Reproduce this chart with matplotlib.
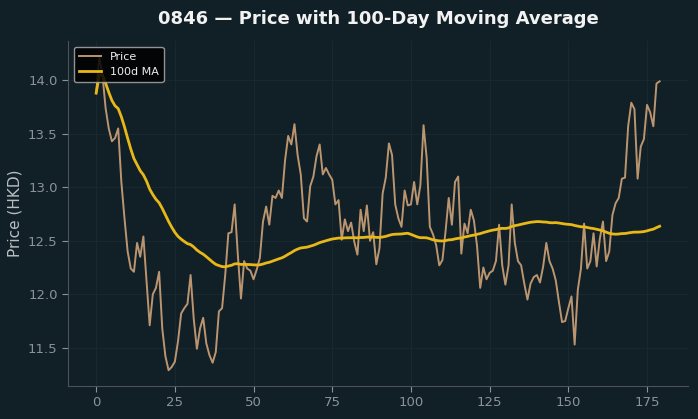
import numpy as np
import pandas as pd
import matplotlib
matplotlib.use('Agg')
import matplotlib.pyplot as plt

# prezzi di chiusura (giorni 0..179)
price = [13.88, 14.22, 14.05, 13.74, 13.55, 13.43, 13.46, 13.55, 13.05, 12.71,
         12.40, 12.24, 12.21, 12.48, 12.35, 12.54, 12.12, 11.71, 12.00, 12.06,
         12.21, 11.68, 11.42, 11.29, 11.32, 11.37, 11.56, 11.82, 11.87, 11.91,
         12.18, 11.77, 11.49, 11.68, 11.78, 11.54, 11.43, 11.36, 11.46, 11.84,
         11.87, 12.18, 12.57, 12.58, 12.84, 12.37, 11.96, 12.31, 12.24, 12.22,
         12.14, 12.23, 12.34, 12.68, 12.82, 12.65, 12.92, 12.90, 12.97, 12.90,
         13.25, 13.48, 13.40, 13.59, 13.30, 13.12, 12.71, 12.68, 13.01, 13.10,
         13.29, 13.40, 13.12, 13.18, 13.12, 13.07, 12.84, 12.88, 12.51, 12.70,
         12.59, 12.67, 12.49, 12.37, 12.79, 12.59, 12.83, 12.50, 12.58, 12.28,
         12.43, 12.94, 13.09, 13.41, 13.30, 12.84, 12.71, 12.63, 12.97, 12.83,
         12.84, 13.05, 12.84, 13.02, 13.58, 13.27, 12.63, 12.56, 12.46, 12.27,
         12.32, 12.59, 12.90, 12.65, 13.05, 13.10, 12.38, 12.66, 12.57, 12.79,
         12.69, 12.45, 12.06, 12.25, 12.14, 12.20, 12.22, 12.31, 12.65, 12.27,
         12.09, 12.27, 12.84, 12.48, 12.31, 12.27, 12.10, 11.95, 12.10, 12.16,
         12.18, 12.11, 12.26, 12.48, 12.31, 12.24, 12.13, 11.93, 11.74, 11.75,
         11.87, 11.98, 11.53, 12.04, 12.24, 12.66, 12.24, 12.31, 12.57, 12.26,
         12.52, 12.68, 12.31, 12.40, 12.74, 12.85, 12.90, 13.08, 13.09, 13.57,
         13.79, 13.73, 13.08, 13.38, 13.45, 13.77, 13.70, 13.57, 13.97, 13.99]
days = np.arange(len(price))
ticker = '0846'
window = 100

df = pd.DataFrame({'day': days, 'price': price})
df['ma'] = df['price'].rolling(window, min_periods=1).mean()

bg = '#111f26'
fig = plt.figure(figsize=(6.98, 4.19), dpi=100, facecolor=bg)
ax = fig.add_axes([0.0974, 0.079, 0.888, 0.823])
ax.set_facecolor(bg)

ax.plot(df['day'], df['price'], color='#c49c74', linewidth=1.4, alpha=0.95, label='Price')
ax.plot(df['day'], df['ma'], color='#e8b818', linewidth=2.0, label=f'{window}d MA')

ax.set_title(f'{ticker} \u2014 Price with {window}-Day Moving Average',
             color='#f2f2f2', fontsize=13, fontweight='bold', pad=12)
ax.set_ylabel('Price (HKD)', color='#b8bfc3', fontsize=11)
ax.tick_params(colors='#8a9398', labelsize=9.5, length=4)
ax.grid(True, color='#19282f', linewidth=0.8)
for s in ['top', 'right']:
    ax.spines[s].set_visible(False)
for s in ['left', 'bottom']:
    ax.spines[s].set_color('#4a5358')

leg = ax.legend(loc='upper left', fontsize=8, facecolor='black', edgecolor='#aaaaaa',
                framealpha=0.85, borderpad=0.45)
for t in leg.get_texts():
    t.set_color('#eeeeee')

fig.savefig('out.png', dpi=100, facecolor=bg)
